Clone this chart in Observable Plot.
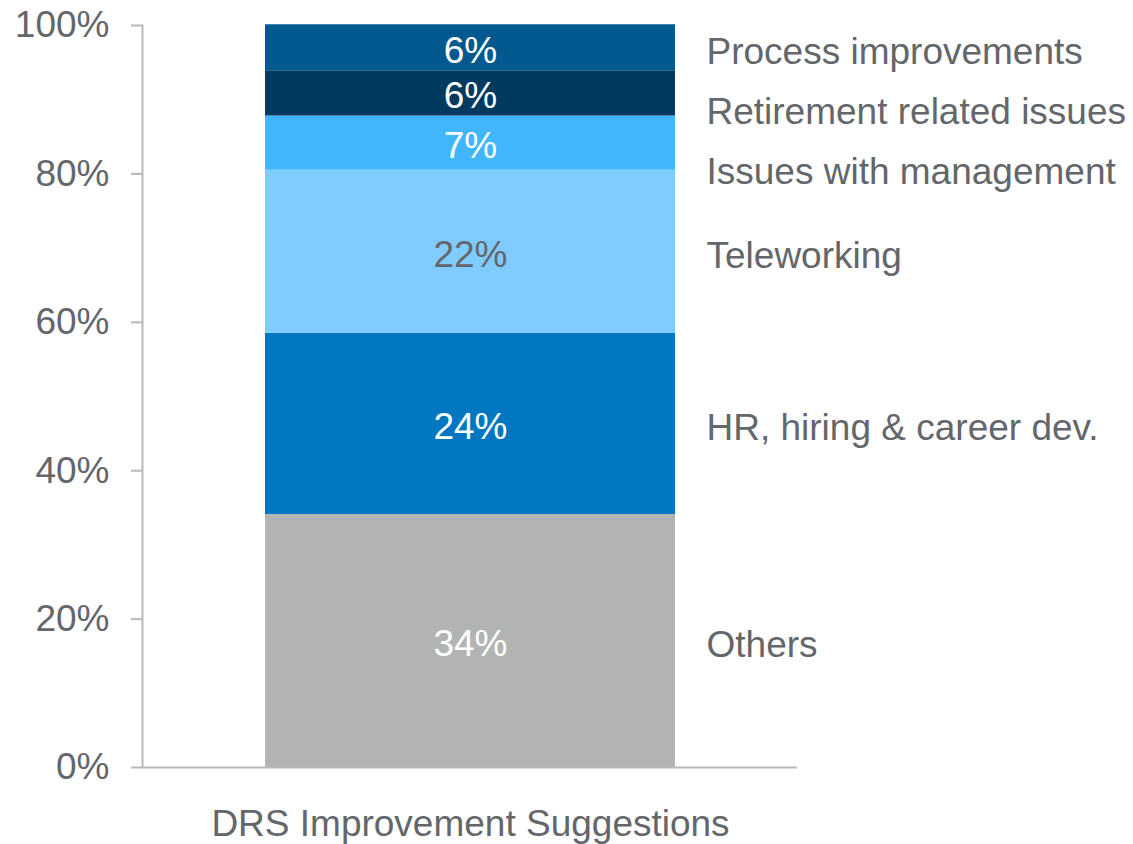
<!DOCTYPE html>
<html>
<head>
<meta charset="utf-8">
<script src="https://cdn.jsdelivr.net/npm/d3@7"></script>
<script src="https://cdn.jsdelivr.net/npm/@observablehq/plot@0.6"></script>
<style>
  body { margin: 0; background: #fff; }
  #chart svg { display: block; }
</style>
</head>
<body>
<div id="chart"></div>
<script>
const group = "DRS Improvement Suggestions";
const categories = ["Others", "HR, hiring & career dev.", "Teleworking", "Issues with management", "Retirement related issues", "Process improvements"];
const values = [34.1, 24.4, 22.0, 7.3, 6.1, 6.2];
const labels = ["34%", "24%", "22%", "7%", "6%", "6%"];
const colors = ["#b2b3b3", "#0077c0", "#80ccff", "#41b6ff", "#003a5e", "#02598f"];
const labelColors = ["#ffffff", "#ffffff", "#63666a", "#ffffff", "#ffffff", "#ffffff"];
const yTicks = [0, 20, 40, 60, 80, 100];

const W = 1133, H = 844;
const mTop = 25, mBottom = 77, mLeft = 142, mRight = 336;
const gray = "#63666a";
const axisGray = "#b9b9b9";
const font = "Liberation Sans, Arial, sans-serif";
const fs = 37;

// build stacked rows
let acc = 0;
const rows = categories.map((c, i) => {
  const y1 = acc; acc += values[i];
  return {group, cat: c, y1, y2: acc, mid: (y1 + acc) / 2, label: labels[i], lc: labelColors[i]};
});
// legend label positions: segment midpoints, pushed apart from the top with a minimum gap
const pxPerUnit = (H - mTop - mBottom) / 100;
const minGap = 60 / pxPerUnit;
let prev = Infinity;
for (let i = rows.length - 1; i >= 0; i--) {
  const y = Math.min(rows[i].mid, prev - minGap);
  rows[i].ly = y; prev = y;
}

const chart = Plot.plot({
  width: W, height: H,
  marginTop: mTop, marginBottom: mBottom, marginLeft: mLeft, marginRight: mRight,
  style: {fontFamily: font, background: "#fff", overflow: "visible"},
  x: {domain: [group], padding: 0.23, label: null},
  y: {domain: [0, 100], label: null},
  color: {domain: categories, range: colors},
  marks: [
    Plot.barY(rows, {x: "group", y1: "y1", y2: "y2", fill: "cat"}),
    Plot.text(rows, {x: "group", y: "mid", text: "label", fill: "lc", fontSize: fs, lineAnchor: "middle", dy: 3}),
    Plot.text(rows, {x: "group", y: "ly", text: "cat", fill: gray, fontSize: fs, textAnchor: "start", dx: 236, dy: 4, lineAnchor: "middle"}),
    Plot.frame({anchor: "left", stroke: axisGray, strokeWidth: 2}),
    Plot.ruleY([0], {stroke: axisGray, strokeWidth: 2}),
    Plot.axisY({ticks: yTicks, tickFormat: d => d + "%", tickSize: 11, tickPadding: 22, fontSize: fs, stroke: axisGray, strokeWidth: 2, fill: gray, label: null}),
    Plot.axisX({tickSize: 0, tickPadding: 42, fontSize: fs, fill: gray, label: null})
  ]
});
document.getElementById("chart").appendChild(chart);
</script>
</body>
</html>
